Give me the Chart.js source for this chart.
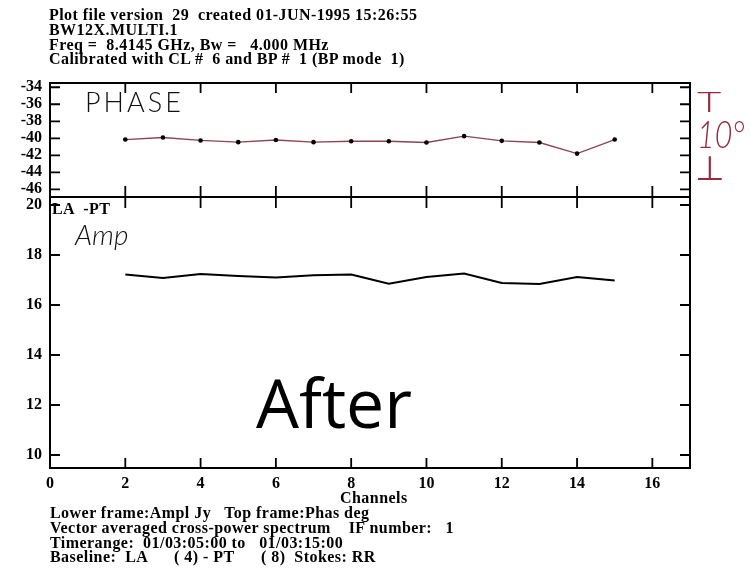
<!DOCTYPE html>
<html>
<head>
<meta charset="utf-8">
<script src="https://cdn.jsdelivr.net/npm/chart.js@4/dist/chart.umd.min.js"></script>
<style>
  html, body { margin: 0; padding: 0; background: #fff; }
  #wrap { position: relative; width: 750px; height: 576px; overflow: hidden; background: #fff; }
  #plot { position: absolute; left: 0; top: 0; }
  .serif { position: absolute; font-family: "Liberation Serif", "Times New Roman", serif; font-weight: bold;
           font-size: 16px; line-height: 14.8px; letter-spacing: 0.45px; white-space: pre; color: #000; }
  .hand { position: absolute; font-family: "Lato", "DejaVu Sans", sans-serif; font-weight: 300; line-height: 1;
          white-space: pre; color: #111; transform-origin: left top; }
  .red { color: #962a3c; }
  .big { position: absolute; font-family: "Open Sans", "Liberation Sans", sans-serif; font-size: 68px; line-height: 68px; color: #000; }
</style>
</head>
<body>
<div id="wrap">
  <canvas id="plot" width="750" height="576"></canvas>

  <div class="serif" style="left:49px; top:8px;">Plot file version  29  created 01-JUN-1995 15:26:55
BW12X.MULTI.1
Freq =  8.4145 GHz, Bw =   4.000 MHz
Calibrated with CL #  6 and BP #  1 (BP mode  1)</div>

  <div class="serif" style="left:52px; top:202px;">LA  -PT</div>

  <div class="hand" style="left:85px; top:88px; font-size:27px; letter-spacing:3px;">PHASE</div>
  <div class="hand" style="left:75px; top:220px; font-size:28px; font-style:italic;">Amp</div>

  <div class="hand red" style="left:697px; top:87px; font-size:28px; transform:scaleX(1.5);">T</div>
  <div class="hand red" style="left:697px; top:114px; font-size:38px; font-style:italic; transform:scaleX(0.8);">10°</div>
  <div class="hand red" style="left:695px; top:150px; font-size:34px;">⊥</div>

  <div class="big" style="left:256px; top:368px;">After</div>

  <div class="serif" style="left:340px; top:491px;">Channels</div>
  <div class="serif" style="left:50px; top:506px;">Lower frame:Ampl Jy   Top frame:Phas deg
Vector averaged cross-power spectrum    IF number:   1
Timerange:  01/03:05:00 to   01/03:15:00
Baseline:  LA      ( 4) - PT      ( 8)  Stokes: RR</div>
</div>

<script>
// Spectral channels and the two quantities measured on each
const channels = [2, 3, 4, 5, 6, 7, 8, 9, 10, 11, 12, 13, 14, 15];
const phaseDeg = [-40.15, -39.9, -40.25, -40.45, -40.2, -40.45, -40.35, -40.35, -40.5, -39.75, -40.3, -40.5, -41.8, -40.15];
const amplJy   = [17.22, 17.08, 17.24, 17.16, 17.10, 17.19, 17.22, 16.85, 17.12, 17.26, 16.88, 16.84, 17.12, 16.98];

// Axis tick values
const channelTicks = [0, 2, 4, 6, 8, 10, 12, 14, 16];
const phaseTicks   = [-34, -36, -38, -40, -42, -44, -46];
const amplTicks    = [20, 18, 16, 14, 12, 10];

const tickFont = { family: "Liberation Serif", weight: "bold", size: 16 };

// Boxed frames with inward tick marks, in the style of an AIPS plot
const framePlugin = {
  id: "frames",
  afterDatasetsDraw(chart) {
    const { ctx, chartArea: a, scales } = chart;
    const xs = scales.x, yp = scales.yPhase, ya = scales.yAmp;
    ctx.save();
    ctx.strokeStyle = "#000";
    ctx.lineCap = "butt";

    ctx.lineWidth = 2;
    ctx.strokeRect(a.left, yp.top, a.right - a.left, yp.bottom - yp.top);
    ctx.strokeRect(a.left, ya.top, a.right - a.left, ya.bottom - ya.top);

    ctx.lineWidth = 1.8;
    ctx.beginPath();
    const L = 10;
    // y ticks, both sides, both panels
    for (const v of phaseTicks) {
      const y = yp.getPixelForValue(v);
      ctx.moveTo(a.left, y); ctx.lineTo(a.left + L, y);
      ctx.moveTo(a.right, y); ctx.lineTo(a.right - L, y);
    }
    for (const v of amplTicks) {
      const y = ya.getPixelForValue(v);
      ctx.moveTo(a.left, y); ctx.lineTo(a.left + L, y);
      ctx.moveTo(a.right, y); ctx.lineTo(a.right - L, y);
    }
    // x ticks: top of phase frame, across the shared edge, bottom of amplitude frame
    for (const v of channelTicks) {
      if (v === 0) continue;
      const x = xs.getPixelForValue(v);
      ctx.moveTo(x, yp.top); ctx.lineTo(x, yp.top + L);
      ctx.moveTo(x, yp.bottom - 11); ctx.lineTo(x, yp.bottom + 11);
      ctx.moveTo(x, ya.bottom); ctx.lineTo(x, ya.bottom - L);
    }
    ctx.stroke();
    ctx.restore();
  }
};

new Chart(document.getElementById("plot"), {
  type: "line",
  data: {
    datasets: [
      {
        label: "Phase",
        data: channels.map((c, i) => ({ x: c, y: phaseDeg[i] })),
        yAxisID: "yPhase",
        borderColor: "#8c4450",
        borderWidth: 1.4,
        pointRadius: 2.3,
        pointBackgroundColor: "#000",
        pointBorderColor: "#000",
        pointBorderWidth: 0,
        tension: 0
      },
      {
        label: "Amplitude",
        data: channels.map((c, i) => ({ x: c, y: amplJy[i] })),
        yAxisID: "yAmp",
        borderColor: "#000",
        borderWidth: 2,
        pointRadius: 0,
        tension: 0
      }
    ]
  },
  options: {
    responsive: false,
    animation: false,
    devicePixelRatio: 1,
    layout: { padding: { top: 83, right: 60, bottom: 78, left: 0 } },
    plugins: { legend: { display: false }, tooltip: { enabled: false } },
    scales: {
      x: {
        type: "linear",
        min: 0, max: 17,
        afterBuildTicks: s => { s.ticks = channelTicks.map(v => ({ value: v })); },
        afterFit: s => { s.height = 30; },
        grid: { display: false, drawTicks: false },
        border: { display: false },
        ticks: { padding: 6, font: tickFont, color: "#000", maxRotation: 0, autoSkip: false }
      },
      // the stack is laid out from the bottom up: amplitude frame below, phase frame above
      yAmp: {
        type: "linear",
        position: "left",
        stack: "panels",
        stackWeight: 271,
        min: 9.48, max: 20.32,
        afterBuildTicks: s => { s.ticks = amplTicks.map(v => ({ value: v })); },
        afterFit: s => { s.width = 50; },
        grid: { display: false, drawTicks: false },
        border: { display: false },
        ticks: { padding: 8, font: tickFont, color: "#000", autoSkip: false }
      },
      yPhase: {
        type: "linear",
        position: "left",
        stack: "panels",
        stackWeight: 114,
        min: -46.9, max: -33.5,
        afterBuildTicks: s => { s.ticks = phaseTicks.map(v => ({ value: v })); },
        afterFit: s => { s.width = 50; },
        grid: { display: false, drawTicks: false },
        border: { display: false },
        ticks: { padding: 8, font: tickFont, color: "#000", autoSkip: false }
      }
    }
  },
  plugins: [framePlugin]
});
</script>
</body>
</html>
